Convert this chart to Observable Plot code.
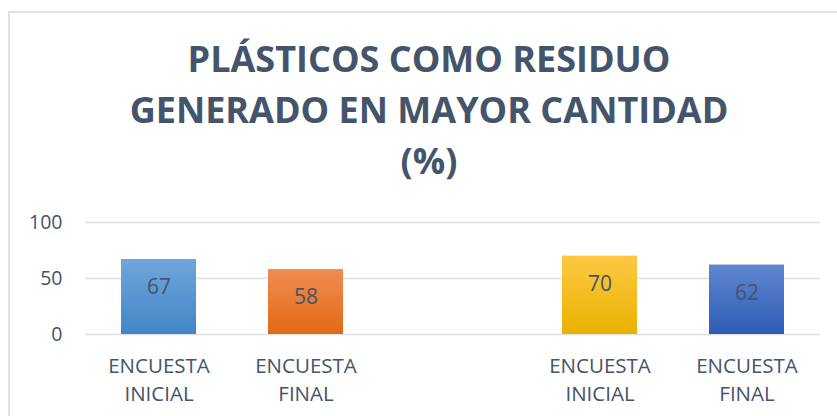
<!DOCTYPE html>
<html>
<head>
<meta charset="utf-8">
<script src="https://cdn.jsdelivr.net/npm/d3@7"></script>
<script src="https://cdn.jsdelivr.net/npm/@observablehq/plot@0.6"></script>
<style>
  html, body { margin: 0; padding: 0; background: #fff; overflow: hidden; }
  body { width: 837px; height: 416px; position: relative; font-family: "Open Sans", sans-serif; }
  #frame { position: absolute; left: 8px; top: 11px; width: 900px; height: 500px;
           border-left: 2px solid #DEE2E7; border-top: 2px solid #DEE2E7; box-sizing: border-box; }
  #title { position: absolute; left: 0; top: 33px; width: 858px; text-align: center;
           font-family: "Open Sans", sans-serif; font-weight: 700; font-size: 36px; line-height: 51px;
           color: #44546A; }
  #chart { position: absolute; left: 0; top: 200px; }
</style>
</head>
<body>
<div id="frame"></div>
<div id="title">PLÁSTICOS COMO RESIDUO<br>GENERADO EN MAYOR CANTIDAD<br>(%)</div>
<div id="chart"></div>
<script>
const keys = ["ini1", "fin1", "gap", "ini2", "fin2"];
const labels = ["ENCUESTA\nINICIAL", "ENCUESTA\nFINAL", "", "ENCUESTA\nINICIAL", "ENCUESTA\nFINAL"];
const values = [67, 58, null, 70, 62];
const yTicks = [0, 50, 100];
const gradients = [
  ["#70A6DC", "#4385C7"],
  ["#F18B53", "#E36A14"],
  ["#FFC843", "#E8B200"],
  ["#5F86CF", "#2E5DB5"]
];

const data = keys.map((k, i) => ({key: k, label: labels[i], value: values[i]})).filter(d => d.value != null);
const labelOf = Object.fromEntries(keys.map((k, i) => [k, labels[i]]));

const plot = Plot.plot({
  width: 837,
  height: 216,
  marginLeft: 85,
  marginRight: 17,
  marginTop: 22,
  marginBottom: 82,
  style: {fontFamily: "Open Sans", color: "#44546A", background: "transparent"},
  x: {domain: keys, paddingInner: 0.49, paddingOuter: 0.245},
  y: {domain: [0, 100]},
  color: {type: "identity"},
  marks: [
    Plot.ruleY(yTicks, {stroke: "#DDE0E4", strokeWidth: 1.6}),
    Plot.barY(data, {x: "key", y: "value", fill: (d, i) => `url(#grad${i})`}),
    Plot.text(data, {x: "key", y: "value", text: d => String(d.value), dy: 28, fontSize: 21, fill: "#44546A"}),
    Plot.axisY({ticks: yTicks, tickSize: 0, tickPadding: 23, fontSize: 19.5, label: null}),
    Plot.axisX({tickSize: 0, tickPadding: 18, fontSize: 20.5, lineHeight: 1.38, tickFormat: k => labelOf[k], label: null})
  ]
});

const ns = "http://www.w3.org/2000/svg";
const defs = document.createElementNS(ns, "defs");
gradients.forEach((g, i) => {
  const lg = document.createElementNS(ns, "linearGradient");
  lg.setAttribute("id", "grad" + i);
  lg.setAttribute("x1", "0"); lg.setAttribute("y1", "0");
  lg.setAttribute("x2", "0"); lg.setAttribute("y2", "1");
  [[0, g[0]], [1, g[1]]].forEach(([o, c]) => {
    const s = document.createElementNS(ns, "stop");
    s.setAttribute("offset", o);
    s.setAttribute("stop-color", c);
    lg.appendChild(s);
  });
  defs.appendChild(lg);
});
plot.insertBefore(defs, plot.firstChild);
document.getElementById("chart").appendChild(plot);
</script>
</body>
</html>
